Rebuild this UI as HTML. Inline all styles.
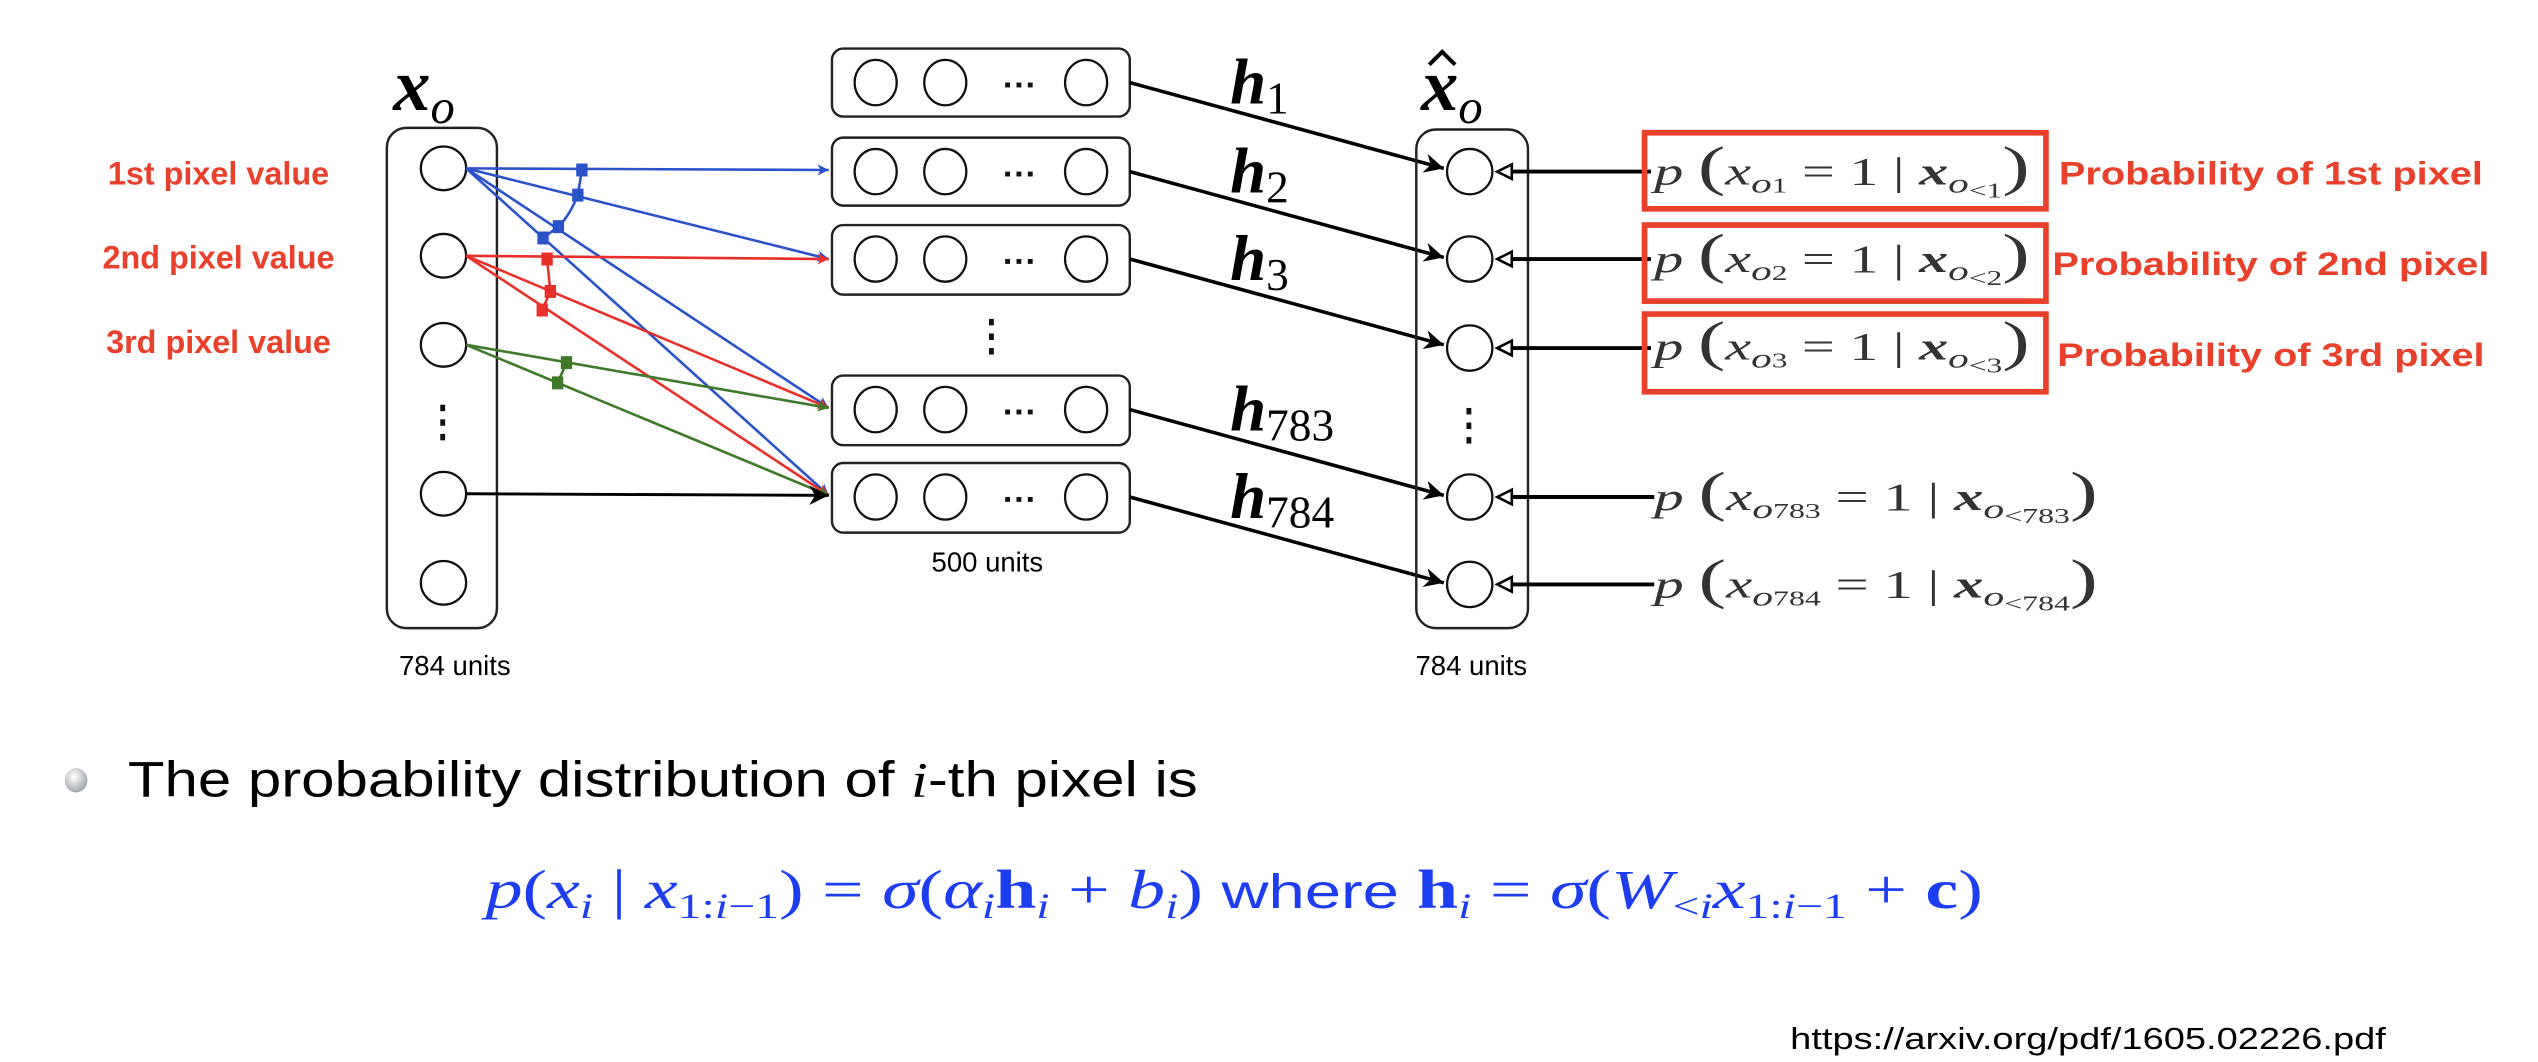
<!DOCTYPE html>
<html><head><meta charset="utf-8"><style>html,body{margin:0;padding:0;background:#fff}svg{display:block}</style></head>
<body>
<svg width="2538" height="1062" viewBox="0 0 1568 656" preserveAspectRatio="none" xmlns="http://www.w3.org/2000/svg">
<defs>
<marker id="ab" viewBox="0 0 10 10" refX="10" refY="5" markerWidth="7" markerHeight="7" orient="auto" markerUnits="userSpaceOnUse"><path d="M0,0 L10,5 L0,10 L3,5z" fill="#2a52c9"/></marker>
<marker id="ar" viewBox="0 0 10 10" refX="10" refY="5" markerWidth="7" markerHeight="7" orient="auto" markerUnits="userSpaceOnUse"><path d="M0,0 L10,5 L0,10 L3,5z" fill="#e8302a"/></marker>
<marker id="ag" viewBox="0 0 10 10" refX="10" refY="5" markerWidth="7" markerHeight="7" orient="auto" markerUnits="userSpaceOnUse"><path d="M0,0 L10,5 L0,10 L3,5z" fill="#3f7a2a"/></marker>
<marker id="ak" viewBox="0 0 10 10" refX="10" refY="5" markerWidth="12" markerHeight="12" orient="auto" markerUnits="userSpaceOnUse"><path d="M0,0 L10,5 L0,10 L3,5z" fill="#000"/></marker>
</defs>
<g font-family="Liberation Serif, serif">
<text x="243" y="68" font-size="46" font-weight="bold" font-style="italic">x<tspan font-size="30" font-weight="normal" dy="8">o</tspan></text>
<text x="878" y="68" font-size="46" font-weight="bold" font-style="italic">x<tspan font-size="30" font-weight="normal" dy="8">o</tspan></text>
</g>
<path d="M883,40 L891,32 L899,40" fill="none" stroke="#000" stroke-width="2.5"/>
<!-- left column -->
<rect x="239" y="79" width="68" height="309" rx="12" fill="none" stroke="#222" stroke-width="1.5"/>
<g fill="#fff" stroke="#111" stroke-width="1.4">
<ellipse cx="274" cy="104" rx="14" ry="13.5"/><ellipse cx="274" cy="158" rx="14" ry="13.5"/><ellipse cx="274" cy="213" rx="14" ry="13.5"/><ellipse cx="274" cy="305" rx="14" ry="13.5"/><ellipse cx="274" cy="360" rx="14" ry="13.5"/>
</g>
<g fill="#111"><rect x="272" y="250" width="3" height="4"/><rect x="272" y="259" width="3" height="4"/><rect x="272" y="268" width="3" height="4"/></g>
<text x="281" y="417" font-family="Liberation Sans, sans-serif" font-size="17" text-anchor="middle">784 units</text>
<g font-family="Liberation Sans, sans-serif" font-size="20" font-weight="bold" fill="#e8402a" text-anchor="middle">
<text x="135" y="114">1st pixel value</text><text x="135" y="166">2nd pixel value</text><text x="135" y="218">3rd pixel value</text>
</g>
<!-- hidden boxes -->
<g fill="#fff" stroke="#222" stroke-width="1.5">
<rect x="514" y="30" width="184" height="42" rx="7"/><rect x="514" y="85" width="184" height="42" rx="7"/><rect x="514" y="139" width="184" height="43" rx="7"/><rect x="514" y="232" width="184" height="43" rx="7"/><rect x="514" y="286" width="184" height="43" rx="7"/>
</g>
<g fill="#fff" stroke="#111" stroke-width="1.4">
<ellipse cx="541" cy="51" rx="13" ry="14"/><ellipse cx="584" cy="51" rx="13" ry="14"/><ellipse cx="671" cy="51" rx="13" ry="14"/>
<ellipse cx="541" cy="106" rx="13" ry="14"/><ellipse cx="584" cy="106" rx="13" ry="14"/><ellipse cx="671" cy="106" rx="13" ry="14"/>
<ellipse cx="541" cy="160" rx="13" ry="14"/><ellipse cx="584" cy="160" rx="13" ry="14"/><ellipse cx="671" cy="160" rx="13" ry="14"/>
<ellipse cx="541" cy="253" rx="13" ry="14"/><ellipse cx="584" cy="253" rx="13" ry="14"/><ellipse cx="671" cy="253" rx="13" ry="14"/>
<ellipse cx="541" cy="307" rx="13" ry="14"/><ellipse cx="584" cy="307" rx="13" ry="14"/><ellipse cx="671" cy="307" rx="13" ry="14"/>
</g>
<g fill="#111">
<rect x="621" y="51" width="3" height="3"/><rect x="628" y="51" width="3" height="3"/><rect x="635" y="51" width="3" height="3"/>
<rect x="621" y="106" width="3" height="3"/><rect x="628" y="106" width="3" height="3"/><rect x="635" y="106" width="3" height="3"/>
<rect x="621" y="160" width="3" height="3"/><rect x="628" y="160" width="3" height="3"/><rect x="635" y="160" width="3" height="3"/>
<rect x="621" y="253" width="3" height="3"/><rect x="628" y="253" width="3" height="3"/><rect x="635" y="253" width="3" height="3"/>
<rect x="621" y="307" width="3" height="3"/><rect x="628" y="307" width="3" height="3"/><rect x="635" y="307" width="3" height="3"/>
<rect x="611" y="197" width="3" height="4"/><rect x="611" y="206" width="3" height="4"/><rect x="611" y="215" width="3" height="4"/>
</g>
<text x="610" y="353" font-family="Liberation Sans, sans-serif" font-size="17" text-anchor="middle">500 units</text>
<!-- colored connections -->
<g stroke-width="1.6" fill="none">
<line x1="288" y1="104" x2="512" y2="105" stroke="#2a52c9" marker-end="url(#ab)"/>
<line x1="288" y1="104" x2="512" y2="160" stroke="#2a52c9" marker-end="url(#ab)"/>
<line x1="288" y1="104" x2="512" y2="252" stroke="#2a52c9" marker-end="url(#ab)"/>
<line x1="288" y1="104" x2="512" y2="306" stroke="#2a52c9" marker-end="url(#ab)"/>
<line x1="288" y1="158" x2="512" y2="160" stroke="#e8302a" marker-end="url(#ar)"/>
<line x1="288" y1="158" x2="512" y2="252" stroke="#e8302a" marker-end="url(#ar)"/>
<line x1="288" y1="158" x2="512" y2="306" stroke="#e8302a" marker-end="url(#ar)"/>
<line x1="288" y1="213" x2="512" y2="252" stroke="#3f7a2a" marker-end="url(#ag)"/>
<line x1="288" y1="213" x2="512" y2="306" stroke="#3f7a2a" marker-end="url(#ag)"/>
<line x1="288" y1="305" x2="512" y2="306" stroke="#000" stroke-width="1.8" marker-end="url(#ak)"/>
<path d="M359.5,105 L357,120.5 Q352,133 345,140 L335.5,147" stroke="#2a52c9"/>
<path d="M338,160 L340,180 L335,191.5" stroke="#e8302a"/>
<path d="M350,224 L344.5,236.5" stroke="#3f7a2a"/>
</g>
<g fill="#2a52c9"><rect x="356" y="101" width="7" height="8"/><rect x="353.5" y="116.5" width="7" height="8"/><rect x="341.5" y="136" width="7" height="8"/><rect x="332" y="143" width="7" height="8"/></g>
<g fill="#e8302a"><rect x="334.5" y="156" width="7" height="8"/><rect x="336.5" y="176" width="7" height="8"/><rect x="331.5" y="187.5" width="7" height="8"/></g>
<g fill="#3f7a2a"><rect x="346.5" y="220" width="7" height="8"/><rect x="341" y="232.5" width="7" height="8"/></g>
<!-- h arrows -->
<g stroke="#000" stroke-width="2.2">
<line x1="698" y1="51" x2="892" y2="104" marker-end="url(#ak)"/>
<line x1="698" y1="106" x2="892" y2="159" marker-end="url(#ak)"/>
<line x1="698" y1="160" x2="892" y2="213" marker-end="url(#ak)"/>
<line x1="698" y1="253" x2="892" y2="306" marker-end="url(#ak)"/>
<line x1="698" y1="307" x2="892" y2="360" marker-end="url(#ak)"/>
</g>
<g font-family="Liberation Serif, serif" font-size="40" font-weight="bold" font-style="italic">
<text x="760" y="64">h<tspan font-size="28" font-weight="normal" font-style="normal" dy="6">1</tspan></text>
<text x="760" y="119">h<tspan font-size="28" font-weight="normal" font-style="normal" dy="6">2</tspan></text>
<text x="760" y="173">h<tspan font-size="28" font-weight="normal" font-style="normal" dy="6">3</tspan></text>
<text x="760" y="266">h<tspan font-size="28" font-weight="normal" font-style="normal" dy="6">783</tspan></text>
<text x="760" y="320">h<tspan font-size="28" font-weight="normal" font-style="normal" dy="6">784</tspan></text>
</g>
<!-- right column -->
<rect x="875" y="80" width="69" height="308" rx="12" fill="none" stroke="#222" stroke-width="1.5"/>
<g fill="#fff" stroke="#111" stroke-width="1.4">
<ellipse cx="908" cy="106" rx="14" ry="14"/><ellipse cx="908" cy="160" rx="14" ry="14"/><ellipse cx="908" cy="215" rx="14" ry="14"/><ellipse cx="908" cy="307" rx="14" ry="14"/><ellipse cx="908" cy="361" rx="14" ry="14"/>
</g>
<g fill="#111"><rect x="906" y="252" width="3" height="4"/><rect x="906" y="261" width="3" height="4"/><rect x="906" y="270" width="3" height="4"/></g>
<text x="909" y="417" font-family="Liberation Sans, sans-serif" font-size="17" text-anchor="middle">784 units</text>
<g stroke="#000" stroke-width="2.4">
<line x1="1020" y1="106" x2="934" y2="106"/>
<line x1="1020" y1="160" x2="934" y2="160"/>
<line x1="1020" y1="215" x2="934" y2="215"/>
<line x1="1022" y1="307" x2="934" y2="307"/>
<line x1="1022" y1="361" x2="934" y2="361"/>
</g>
<g fill="#fff" stroke="#000" stroke-width="1.6">
<path d="M925,106 L934,101.5 L934,110.5z"/>
<path d="M925,160 L934,155.5 L934,164.5z"/>
<path d="M925,215 L934,210.5 L934,219.5z"/>
<path d="M925,307 L934,302.5 L934,311.5z"/>
<path d="M925,361 L934,356.5 L934,365.5z"/>
</g>
<!-- red boxes -->
<g fill="none" stroke="#e8402a" stroke-width="3.5">
<rect x="1016" y="82" width="248" height="47"/><rect x="1016" y="139" width="248" height="47"/><rect x="1016" y="194" width="248" height="48"/>
</g>
<g font-family="Liberation Serif, serif" fill="#333" font-size="24">
<text x="1022" y="114" textLength="232" lengthAdjust="spacingAndGlyphs"><tspan font-style="italic">p</tspan> <tspan font-size="34">(</tspan><tspan font-style="italic">x</tspan><tspan font-size="17" font-style="italic" dy="5">o</tspan><tspan font-size="13">1</tspan><tspan dy="-5"> = 1 | </tspan><tspan font-weight="bold" font-style="italic">x</tspan><tspan font-size="17" font-style="italic" dy="5">o</tspan><tspan font-size="13" dy="3">&lt;1</tspan><tspan font-size="34" dy="-8">)</tspan></text>
<text x="1022" y="168" textLength="232" lengthAdjust="spacingAndGlyphs"><tspan font-style="italic">p</tspan> <tspan font-size="34">(</tspan><tspan font-style="italic">x</tspan><tspan font-size="17" font-style="italic" dy="5">o</tspan><tspan font-size="13">2</tspan><tspan dy="-5"> = 1 | </tspan><tspan font-weight="bold" font-style="italic">x</tspan><tspan font-size="17" font-style="italic" dy="5">o</tspan><tspan font-size="13" dy="3">&lt;2</tspan><tspan font-size="34" dy="-8">)</tspan></text>
<text x="1022" y="222" textLength="232" lengthAdjust="spacingAndGlyphs"><tspan font-style="italic">p</tspan> <tspan font-size="34">(</tspan><tspan font-style="italic">x</tspan><tspan font-size="17" font-style="italic" dy="5">o</tspan><tspan font-size="13">3</tspan><tspan dy="-5"> = 1 | </tspan><tspan font-weight="bold" font-style="italic">x</tspan><tspan font-size="17" font-style="italic" dy="5">o</tspan><tspan font-size="13" dy="3">&lt;3</tspan><tspan font-size="34" dy="-8">)</tspan></text>
<text x="1022" y="315" textLength="274" lengthAdjust="spacingAndGlyphs"><tspan font-style="italic">p</tspan> <tspan font-size="34">(</tspan><tspan font-style="italic">x</tspan><tspan font-size="17" font-style="italic" dy="5">o</tspan><tspan font-size="13">783</tspan><tspan dy="-5"> = 1 | </tspan><tspan font-weight="bold" font-style="italic">x</tspan><tspan font-size="17" font-style="italic" dy="5">o</tspan><tspan font-size="13" dy="3">&lt;783</tspan><tspan font-size="34" dy="-8">)</tspan></text>
<text x="1022" y="369" textLength="274" lengthAdjust="spacingAndGlyphs"><tspan font-style="italic">p</tspan> <tspan font-size="34">(</tspan><tspan font-style="italic">x</tspan><tspan font-size="17" font-style="italic" dy="5">o</tspan><tspan font-size="13">784</tspan><tspan dy="-5"> = 1 | </tspan><tspan font-weight="bold" font-style="italic">x</tspan><tspan font-size="17" font-style="italic" dy="5">o</tspan><tspan font-size="13" dy="3">&lt;784</tspan><tspan font-size="34" dy="-8">)</tspan></text>
</g>
<g font-family="Liberation Sans, sans-serif" font-size="20" font-weight="bold" fill="#e8402a">
<text x="1272" y="114" textLength="262" lengthAdjust="spacingAndGlyphs">Probability of 1st pixel</text>
<text x="1268" y="170" textLength="270" lengthAdjust="spacingAndGlyphs">Probability of 2nd pixel</text>
<text x="1271" y="226" textLength="264" lengthAdjust="spacingAndGlyphs">Probability of 3rd pixel</text>
</g>
<!-- bottom -->
<defs><radialGradient id="bg" cx="0.4" cy="0.35" r="0.7"><stop offset="0" stop-color="#fff"/><stop offset="1" stop-color="#9aa0a8"/></radialGradient></defs>
<ellipse cx="47" cy="482" rx="7" ry="7.5" fill="url(#bg)"/>
<text x="79" y="492" font-family="Liberation Sans, sans-serif" font-size="31" textLength="661" lengthAdjust="spacingAndGlyphs">The probability distribution of <tspan font-family="Liberation Serif, serif" font-style="italic">i</tspan>-th pixel is</text>
<text x="300" y="561" font-family="Liberation Serif, serif" font-size="34" fill="#1d3df0" textLength="925" lengthAdjust="spacingAndGlyphs"><tspan font-style="italic">p</tspan>(<tspan font-style="italic">x</tspan><tspan font-size="22" font-style="italic" dy="6">i</tspan><tspan dy="-6"> | </tspan><tspan font-style="italic">x</tspan><tspan font-size="22" dy="6">1:<tspan font-style="italic">i</tspan>−1</tspan><tspan dy="-6">) = </tspan><tspan font-style="italic">σ</tspan>(<tspan font-style="italic">α</tspan><tspan font-size="22" font-style="italic" dy="6">i</tspan><tspan font-weight="bold" dy="-6">h</tspan><tspan font-size="22" font-style="italic" dy="6">i</tspan><tspan dy="-6"> + </tspan><tspan font-style="italic">b</tspan><tspan font-size="22" font-style="italic" dy="6">i</tspan><tspan dy="-6">) </tspan><tspan font-family="Liberation Sans, sans-serif" font-size="30">where </tspan><tspan font-weight="bold">h</tspan><tspan font-size="22" font-style="italic" dy="6">i</tspan><tspan dy="-6"> = </tspan><tspan font-style="italic">σ</tspan>(<tspan font-style="italic">W</tspan><tspan font-size="22" dy="6">&lt;<tspan font-style="italic">i</tspan></tspan><tspan font-style="italic" dy="-6">x</tspan><tspan font-size="22" dy="6">1:<tspan font-style="italic">i</tspan>−1</tspan><tspan dy="-6"> + </tspan><tspan font-weight="bold">c</tspan>)</text>
<text x="1106" y="648" font-family="Liberation Sans, sans-serif" font-size="19" textLength="368" lengthAdjust="spacingAndGlyphs">https://arxiv.org/pdf/1605.02226.pdf</text>
</svg>
</body></html>
